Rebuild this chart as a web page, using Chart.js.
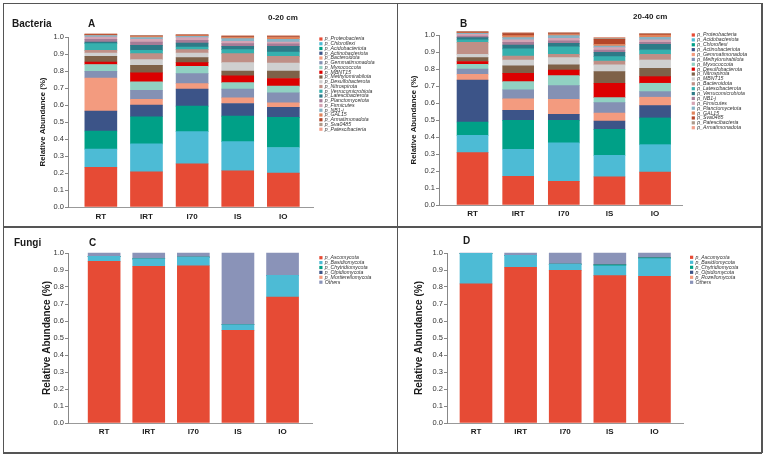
<!DOCTYPE html>
<html>
<head>
<meta charset="utf-8">
<script src="https://cdn.jsdelivr.net/npm/chart.js@4.4.1/dist/chart.umd.min.js"></script>
<style>
  body { margin: 0; background: #fff; font-family: Arial, "Liberation Sans", sans-serif; }
  #fig { position: relative; width: 767px; height: 455px; overflow: hidden; background: #fff; }
  #fig canvas { position: absolute; }
  .lbl { position: absolute; font-weight: bold; color: #1a1a1a; white-space: nowrap; line-height: 1; }
  .ln { position: absolute; background: #555; }
</style>
</head>
<body>
<div id="fig">
  <!-- frame -->
  <div class="ln" style="left:3px;top:2.5px;width:759px;height:1.5px"></div>
  <div class="ln" style="left:3px;top:452px;width:759px;height:1.5px"></div>
  <div class="ln" style="left:2.5px;top:3px;width:1.5px;height:450px"></div>
  <div class="ln" style="left:761px;top:3px;width:1.5px;height:450px"></div>
  <div class="ln" style="left:396.5px;top:3px;width:1.5px;height:450px"></div>
  <div class="ln" style="left:3px;top:226px;width:759px;height:1.5px"></div>

  <canvas id="cA" width="397" height="226" style="left:0;top:0"></canvas>
  <canvas id="cB" width="370" height="226" style="left:397px;top:0"></canvas>
  <canvas id="cC" width="397" height="226" style="left:0;top:227px"></canvas>
  <canvas id="cD" width="370" height="226" style="left:397px;top:227px"></canvas>

  <div class="lbl" style="left:12px;top:18.5px;font-size:10px">Bacteria</div>
  <div class="lbl" style="left:88px;top:18.5px;font-size:10px">A</div>
  <div class="lbl" style="left:268px;top:14px;font-size:8px">0-20 cm</div>
  <div class="lbl" style="left:460px;top:18.5px;font-size:10px">B</div>
  <div class="lbl" style="left:633px;top:13px;font-size:8px">20-40 cm</div>
  <div class="lbl" style="left:14px;top:238px;font-size:10px">Fungi</div>
  <div class="lbl" style="left:89px;top:237.5px;font-size:10px">C</div>
  <div class="lbl" style="left:463px;top:236px;font-size:10px">D</div>
</div>

<script>
// sample groups (x axis)
const groups = ['RT', 'IRT', 'I70', 'IS', 'IO'];

// bacteria, 0-20 cm (panel A), stacked bottom -> top
const taxaA = ['p_Proteobacteria', 'p_Chloroflexi', 'p_Acidobacteriota', 'p_Actinobacteriota',
  'p_Bacteroidota', 'p_Gemmatimonadota', 'p_Myxococcota', 'p_MBNT15', 'p_Methylomirabilota',
  'p_Desulfobacterota', 'p_Nitrospirota', 'p_Verrucomicrobiota', 'p_Latescibacterota',
  'p_Planctomycetota', 'p_Firmicutes', 'p_NB1-j', 'p_GAL15', 'p_Armatimonadota', 'p_Sva0485',
  'p_Patescibacteria'];
const aRT  = [0.234, 0.106, 0.107, 0.117, 0.195, 0.039, 0.040, 0.015, 0.033, 0.020, 0.015, 0.040, 0.009, 0.016, 0.014, 0.009, 0.003, 0.003, 0.002, 0.002];
const aIRT = [0.207, 0.164, 0.160, 0.068, 0.034, 0.054, 0.049, 0.053, 0.045, 0.033, 0.035, 0.019, 0.030, 0.019, 0.016, 0.011, 0.006, 0.003, 0.002, 0.002];
const aI70 = [0.254, 0.189, 0.150, 0.100, 0.033, 0.059, 0.043, 0.021, 0.030, 0.027, 0.020, 0.015, 0.023, 0.016, 0.016, 0.008, 0.004, 0.003, 0.002, 0.002];
const aIS  = [0.213, 0.172, 0.150, 0.074, 0.033, 0.051, 0.039, 0.039, 0.029, 0.049, 0.053, 0.024, 0.019, 0.016, 0.013, 0.016, 0.008, 0.004, 0.004, 0.003];
const aIO  = [0.199, 0.151, 0.177, 0.059, 0.027, 0.059, 0.039, 0.045, 0.044, 0.047, 0.039, 0.026, 0.033, 0.015, 0.010, 0.016, 0.012, 0.005, 0.003, 0.003];

// bacteria, 20-40 cm (panel B)
const taxaB = ['p_Proteobacteria', 'p_Acidobacteriota', 'p_Chloroflexi', 'p_Actinobacteriota',
  'p_Gemmatimonadota', 'p_Methylomirabilota', 'p_Myxococcota', 'p_Desulfobacterota',
  'p_Nitrospirota', 'p_MBNT15', 'p_Bacteroidota', 'p_Latescibacterota', 'p_Verrucomicrobiota',
  'p_NB1-j', 'p_Firmicutes', 'p_Planctomycetota', 'p_GAL15', 'p_Sva0485', 'p_Patescibacteria',
  'p_Armatimonadota'];
const bRT  = [0.308, 0.102, 0.078, 0.247, 0.034, 0.031, 0.028, 0.016, 0.023, 0.019, 0.071, 0.014, 0.014, 0.009, 0.010, 0.006, 0.003, 0.004, 0.003, 0.002];
const bIRT = [0.169, 0.159, 0.170, 0.059, 0.067, 0.053, 0.049, 0.049, 0.043, 0.035, 0.023, 0.042, 0.023, 0.016, 0.014, 0.014, 0.011, 0.012, 0.004, 0.002];
const bI70 = [0.139, 0.226, 0.133, 0.036, 0.088, 0.080, 0.059, 0.033, 0.030, 0.043, 0.019, 0.045, 0.020, 0.014, 0.015, 0.016, 0.007, 0.006, 0.004, 0.003];
const bIS  = [0.165, 0.127, 0.153, 0.049, 0.047, 0.061, 0.030, 0.084, 0.069, 0.039, 0.023, 0.026, 0.025, 0.014, 0.014, 0.009, 0.010, 0.030, 0.007, 0.004];
const bIO  = [0.194, 0.161, 0.157, 0.073, 0.049, 0.033, 0.049, 0.039, 0.049, 0.049, 0.033, 0.026, 0.033, 0.012, 0.014, 0.015, 0.014, 0.005, 0.003, 0.002];

// fungi, 0-20 cm (panel C)
const taxaC = ['p_Ascomycota', 'p_Basidiomycota', 'p_Chytridiomycota', 'p_Olpidiomycota', 'p_Mortierellomycota', 'Others'];
const cRT  = [0.951, 0.029, 0, 0, 0, 0.020];
const cIRT = [0.922, 0.043, 0, 0, 0, 0.035];
const cI70 = [0.925, 0.051, 0, 0, 0, 0.024];
const cIS  = [0.545, 0.033, 0, 0, 0, 0.422];
const cIO  = [0.741, 0.128, 0, 0, 0, 0.131];

// fungi, 20-40 cm (panel D)
const taxaD = ['p_Ascomycota', 'p_Basidiomycota', 'p_Chytridiomycota', 'p_Olpidiomycota', 'p_Rozellomycota', 'Others'];
const dRT  = [0.818, 0.180, 0, 0, 0, 0.002];
const dIRT = [0.916, 0.070, 0, 0, 0, 0.014];
const dI70 = [0.898, 0.037, 0, 0, 0, 0.065];
const dIS  = [0.867, 0.058, 0.006, 0, 0, 0.069];
const dIO  = [0.863, 0.104, 0.005, 0, 0, 0.028];

const yTicks = [0, 0.1, 0.2, 0.3, 0.4, 0.5, 0.6, 0.7, 0.8, 0.9, 1.0];

// colour by stack position
const palette = ['#E64B35', '#4DBBD5', '#00A087', '#3C5488', '#F39B7F', '#8491B4', '#91D1C2',
  '#DC0000', '#7E6148', '#CFCFCF', '#BF8F86', '#36B0AE', '#2E7A87', '#A67C97', '#D4A4B4',
  '#86B3C5', '#E0845C', '#B5462A', '#AE9A8A', '#F2A08C'];
const fungiColors = ['#E64B35', '#4DBBD5', '#00A087', '#3C5488', '#F39B7F', '#8A93B8'];

const FONT = 'Arial, "Liberation Sans", sans-serif';

// small legend drawn at the right of each panel
const sideLegend = {
  id: 'sideLegend',
  afterDraw(chart, args, o) {
    const ctx = chart.ctx;
    ctx.save();
    ctx.font = `italic ${o.size}px ${FONT}`;
    ctx.textBaseline = 'middle';
    chart.data.datasets.forEach((ds, i) => {
      const y = o.y + i * o.step;
      ctx.fillStyle = ds.backgroundColor;
      ctx.fillRect(o.x, y - 1.6, 3.2, 3.2);
      ctx.fillStyle = '#333';
      ctx.fillText(ds.label, o.x + 5.5, y);
    });
    ctx.restore();
  }
};

function makeChart(id, taxa, samples, colors, g) {
  const datasets = taxa.map((name, k) => ({
    label: name,
    data: samples.map((s, i) => ({ x: i, y: s[k] })),
    backgroundColor: colors[k],
    borderWidth: 0,
    barThickness: g.bar,
    clip: false
  }));

  return new Chart(document.getElementById(id), {
    type: 'bar',
    data: { datasets },
    plugins: [sideLegend],
    options: {
      responsive: false,
      animation: false,
      devicePixelRatio: 1,
      layout: { padding: g.pad },
      plugins: {
        legend: { display: false },
        tooltip: { enabled: false },
        sideLegend: g.leg
      },
      scales: {
        x: {
          type: 'linear', stacked: true, offset: false,
          min: g.xmin, max: g.xmax,
          afterBuildTicks: s => { s.ticks = groups.map((_, i) => ({ value: i })); },
          afterFit: s => { s.height = 18; },
          grid: { display: false, drawTicks: false, offset: false },
          border: { display: true, color: '#999', width: 1 },
          ticks: {
            autoSkip: false, maxRotation: 0, padding: g.xpad, color: '#1a1a1a',
            font: { family: FONT, size: 8, weight: 'bold' },
            callback: v => groups[v]
          }
        },
        y: {
          stacked: true, min: 0, max: 1,
          afterBuildTicks: s => { s.ticks = yTicks.map(v => ({ value: v })); },
          afterFit: s => { s.width = g.yw; },
          grid: { display: true, drawOnChartArea: false, drawTicks: true, tickLength: 3, color: '#888' },
          border: { display: true, color: '#888', width: 1 },
          ticks: {
            padding: 1, color: '#333',
            font: { family: FONT, size: 7.5 },
            callback: v => v.toFixed(1)
          },
          title: {
            display: true, text: 'Relative Abundance (%)', color: '#1a1a1a',
            padding: 0, font: { family: FONT, size: g.tsize, weight: 'bold' }
          }
        }
      }
    }
  });
}

makeChart('cA', taxaA, [aRT, aIRT, aI70, aIS, aIO], palette, {
  bar: 32, xmin: -0.72, xmax: 4.65, yw: 30, xpad: 5, tsize: 7.8,
  pad: { left: 38, top: 37, right: 84, bottom: 1 },
  leg: { x: 319.3, y: 39, step: 4.75, size: 5.2 }
});
makeChart('cB', taxaB, [bRT, bIRT, bI70, bIS, bIO], palette, {
  bar: 31, xmin: -0.735, xmax: 4.59, yw: 30, xpad: 4, tsize: 7.8,
  pad: { left: 12, top: 35, right: 85, bottom: 3 },
  leg: { x: 294.7, y: 35, step: 4.88, size: 5.2 }
});
makeChart('cC', taxaC, [cRT, cIRT, cI70, cIS, cIO], fungiColors, {
  bar: 32, xmin: -0.81, xmax: 4.66, yw: 27, xpad: 4, tsize: 10,
  pad: { left: 41, top: 26, right: 85, bottom: 12 },
  leg: { x: 319.3, y: 30.7, step: 4.9, size: 5.2 }
});
makeChart('cD', taxaD, [dRT, dIRT, dI70, dIS, dIO], fungiColors, {
  bar: 32, xmin: -0.65, xmax: 4.64, yw: 34, xpad: 4, tsize: 10,
  pad: { left: 16, top: 26, right: 84, bottom: 12 },
  leg: { x: 293, y: 30.3, step: 5, size: 5.2 }
});
</script>
</body>
</html>
